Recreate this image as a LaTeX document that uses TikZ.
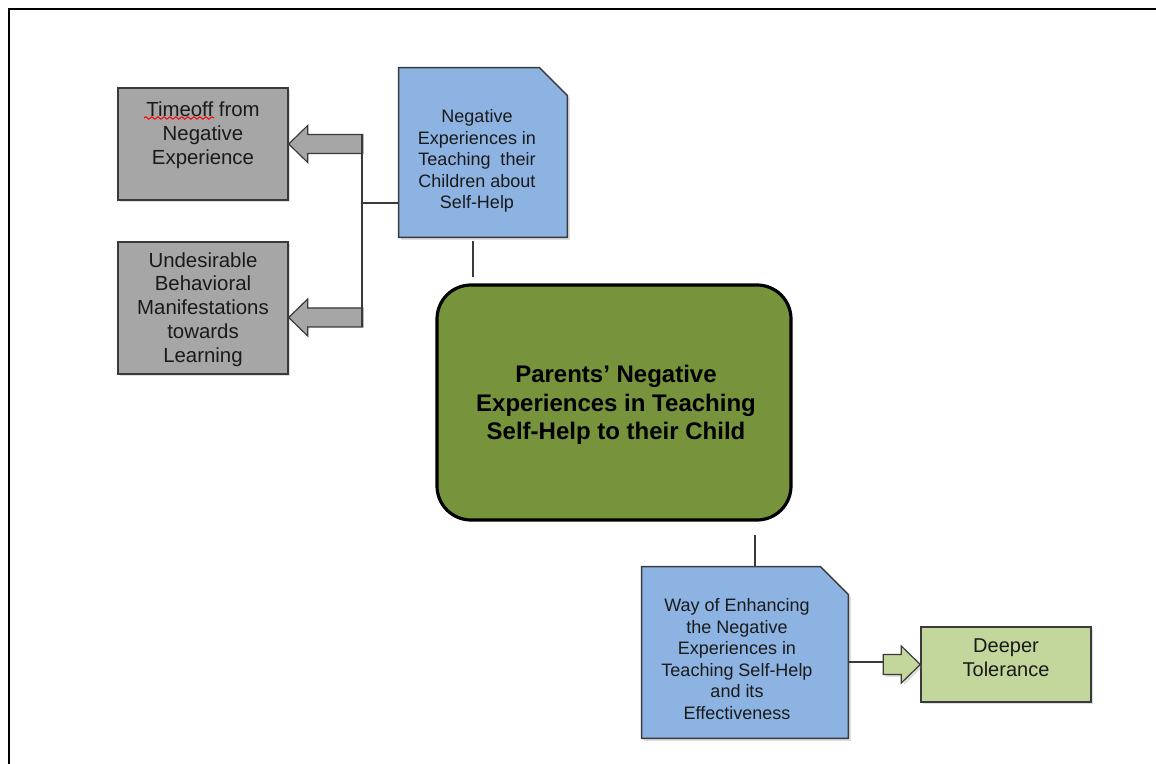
\documentclass[tikz,border=0pt]{standalone}
\usepackage{fontspec}
\setmainfont{Liberation Sans}
\usetikzlibrary{shadows,backgrounds,decorations.pathmorphing,calc}
\definecolor{grayfill}{HTML}{A6A6A6}
\definecolor{bluefill}{HTML}{8DB3E2}
\definecolor{maingreen}{HTML}{77933C}
\definecolor{lightgreen}{HTML}{C3D69B}
\definecolor{edge}{HTML}{3A3A3A}
\definecolor{txt}{HTML}{1A1A1A}
\tikzset{
  boxshadow/.style={drop shadow={opacity=0.25,shadow xshift=1.2pt,shadow yshift=-1.2pt}},
  graybox/.style={rectangle,draw=edge,line width=0.7pt,fill=grayfill,boxshadow,inner sep=0pt},
  greenbox/.style={rectangle,draw=edge,line width=0.7pt,fill=lightgreen,boxshadow,inner sep=0pt},
  docframe/.style={rectangle,draw=none,inner sep=0pt},
  docshape/.style={draw=edge,line width=0.7pt,fill=bluefill,boxshadow},
  mainbox/.style={rectangle,draw=black,line width=1.6pt,fill=maingreen,rounded corners=17pt,inner sep=0pt},
  maintext/.style={font=\fontsize{12pt}{14.3pt}\selectfont\bfseries,text=black,align=center},
  graytext/.style={align=center,text=txt,font=\fontsize{10.2pt}{11.9pt}\selectfont},
  bluetext/.style={align=center,text=txt,font=\fontsize{9pt}{10.8pt}\selectfont},
  greentext/.style={align=center,text=txt,font=\fontsize{10pt}{12pt}\selectfont},
  conn/.style={draw=edge,line width=0.6pt},
  grayarrow/.style={draw=edge,line width=0.6pt,fill=grayfill},
  greenarrow/.style={draw=edge,line width=0.6pt,fill=lightgreen,boxshadow},
}
\begin{document}
\begin{tikzpicture}[x=0.5pt,y=-0.5pt]
\useasboundingbox (0,0) rectangle (1156,764);
% outer frame
\coordinate (fbl) at (9,764);
\coordinate (ftl) at (9,9);
\coordinate (ftr) at (1156,9);
\draw[line width=1.3pt,black] (fbl) -- (ftl) -- (ftr);

% gray boxes
\node[graybox,minimum width=85pt,minimum height=56pt] (g1) at (203,144) {};
\node[graytext] (g1t) at (203,135) {Timeoff from\\Negative\\Experience};
\coordinate (wavyA) at (144,118);
\coordinate (wavyB) at (214,118);
\draw[red,line width=0.5pt,decorate,decoration={snake,amplitude=0.6pt,segment length=3pt}] (wavyA) -- (wavyB);
\node[graybox,minimum width=85pt,minimum height=66pt] (g2) at (203,308) {};
\node[graytext] (g2t) at (203,309.5) {Undesirable\\Behavioral\\Manifestations\\towards\\Learning};

% blue document 1
\node[docframe,minimum width=84pt,minimum height=84.5pt] (b1) at (483,152.5) {};
\draw[docshape] (b1.south west) -- (b1.north west) -- ([xshift=-14pt]b1.north east) -- ([yshift=-14pt]b1.north east) -- (b1.south east) -- cycle;
\node[bluetext] (b1t) at (477,161) {Negative\\Experiences in\\Teaching\ \ their\\Children\ about\\Self-Help};

% main box
\node[mainbox,minimum width=177pt,minimum height=117.5pt] (m) at (614,402.5) {};
\node[maintext] (mt) at (616,405) {Parents’ Negative\\Experiences in Teaching\\Self-Help to their Child};

% blue document 2
\node[docframe,minimum width=103pt,minimum height=85.5pt] (b2) at (745,652.5) {};
\draw[docshape] (b2.south west) -- (b2.north west) -- ([xshift=-14pt]b2.north east) -- ([yshift=-14pt]b2.north east) -- (b2.south east) -- cycle;
\node[bluetext] (b2t) at (737,659) {Way of Enhancing\\the Negative\\Experiences in\\Teaching\ Self-Help\\and its\\Effectiveness};

% green box
\node[greenbox,minimum width=85pt,minimum height=37.5pt] (gr) at (1006,664.5) {};
\node[greentext] (grt) at (1006,658) {Deeper\\Tolerance};

% block arrows (gray, pointing left)
\draw[grayarrow,shift={(g1.east)}] (0,0) -- (19,-18.5) -- (19,-9.5) -- (74,-9.5) -- (74,9.5) -- (19,9.5) -- (19,18.5) -- cycle;
\draw[grayarrow,shift={($(g2.east)+(0,-4.75pt)$)}] (0,0) -- (19,-18.5) -- (19,-9.5) -- (74,-9.5) -- (74,9.5) -- (19,9.5) -- (19,18.5) -- cycle;

% connectors on the left
\coordinate (vtop) at (362,134.5);
\coordinate (vbot) at (362,327);
\coordinate (j1) at (362,203);
\draw[conn] (vtop) -- (vbot);
\draw[conn] (j1) -- (j1 -| b1.west);
\coordinate (c1a) at (473,241);
\coordinate (c1b) at (473,277);
\draw[conn] (c1a) -- (c1b);

% connectors on the right
\coordinate (c2a) at (755,535);
\draw[conn] (c2a) -- (c2a |- b2.north);
\coordinate (c3a) at (848,662);
\coordinate (c3b) at (884,662);
\draw[conn] (c3a) -- (c3b);

% green block arrow (pointing right)
\draw[greenarrow,shift={(gr.west)}] (0,0) -- (-19,-18.5) -- (-19,-10) -- (-37,-10) -- (-37,10) -- (-19,10) -- (-19,18.5) -- cycle;
\end{tikzpicture}
\end{document}
